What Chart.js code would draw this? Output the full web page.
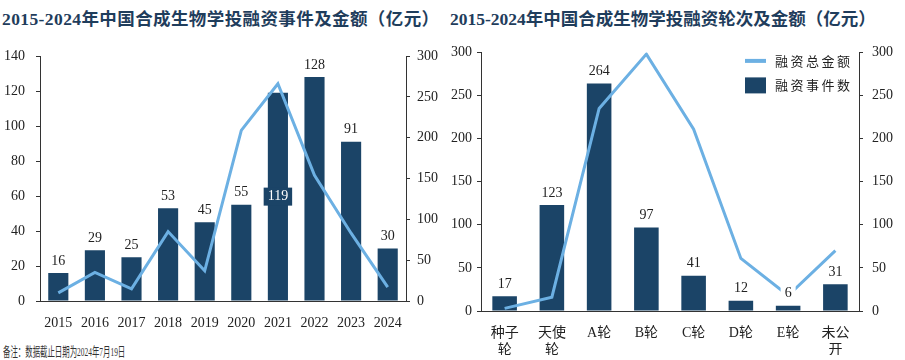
<!DOCTYPE html>
<html>
<head>
<meta charset="utf-8">
<script src="https://cdn.jsdelivr.net/npm/chart.js@4.4.1/dist/chart.umd.min.js"></script>
<style>
  body { margin: 0; width: 905px; height: 360px; background: #fff; position: relative; overflow: hidden;
         font-family: "Liberation Serif", "Noto Sans CJK SC", serif; }
  .title { position: absolute; top: 5px; font-size: 17.5px; font-weight: bold; color: #1f3d5c; white-space: nowrap; }
  #t1 { left: 2px; letter-spacing: 0.4px; }
  #t2 { left: 450px; }
  #note { position: absolute; left: 3px; top: 341px; font-size: 13px; color: #333; white-space: nowrap;
          transform: scaleX(0.57); transform-origin: left top; }
  canvas { position: absolute; }
</style>
</head>
<body>
<div class="title" id="t1">2015-2024年中国合成生物学投融资事件及金额（亿元）</div>
<div class="title" id="t2">2015-2024年中国合成生物学投融资轮次及金额（亿元）</div>
<canvas id="yearChart" width="450" height="300" style="left:0;top:35px"></canvas>
<canvas id="roundChart" width="465" height="320" style="left:440px;top:35px"></canvas>
<div id="note">备注：数据截止日期为2024年7月19日</div>
<script>
// data
const years = ['2015', '2016', '2017', '2018', '2019', '2020', '2021', '2022', '2023', '2024'];
const yearEvents = [16, 29, 25, 53, 45, 55, 119, 128, 91, 30];
const yearAmount = [10, 35, 15, 85, 37, 209, 266, 154, 83, 17];

const rounds = [['种子', '轮'], ['天使', '轮'], 'A轮', 'B轮', 'C轮', 'D轮', 'E轮', ['未公', '开']];
const roundEvents = [17, 123, 264, 97, 41, 12, 6, 31];
const roundAmount = [3, 16, 235, 298, 211, 61, 18, 70];

const barColor = '#1b4467';
const lineColor = '#6cb0e3';
const axisColor = '#333';

Chart.defaults.font.family = '"Liberation Serif", "Noto Sans CJK SC", serif';
Chart.defaults.font.size = 14;
Chart.defaults.color = '#222';

// labels above bars
const barLabels = {
  id: 'barLabels',
  afterDatasetsDraw(chart, args, opts) {
    const ctx = chart.ctx;
    const meta = chart.getDatasetMeta(0);
    const data = chart.data.datasets[0].data;
    ctx.save();
    ctx.font = '14px "Liberation Serif"';
    ctx.textAlign = 'center';
    ctx.textBaseline = 'middle';
    meta.data.forEach((bar, i) => {
      const txt = String(data[i]);
      let y = bar.y - 12;
      const w = ctx.measureText(txt).width + 8;
      if (i === opts.inside) {
        y = (bar.y + bar.base) / 2;
        ctx.fillStyle = barColor;
        ctx.fillRect(bar.x - w / 2, y - 9, w, 18);
        ctx.fillStyle = '#fff';
      } else if (i === opts.knockout) {
        ctx.fillStyle = '#fff';
        ctx.fillRect(bar.x - w / 2, y - 9, w, 18);
        ctx.fillStyle = '#222';
      } else {
        ctx.fillStyle = '#222';
      }
      ctx.fillText(txt, bar.x, y);
    });
    ctx.restore();
  }
};

// legend box in the top right of the plot
const legendBox = {
  id: 'legendBox',
  afterDraw(chart, args, opts) {
    if (!opts.show) return;
    const { ctx, chartArea: a } = chart;
    const x = a.right - 114;
    ctx.save();
    ctx.strokeStyle = lineColor;
    ctx.lineWidth = 4;
    ctx.beginPath();
    ctx.moveTo(x, a.top + 8.5);
    ctx.lineTo(x + 21, a.top + 8.5);
    ctx.stroke();
    ctx.fillStyle = barColor;
    ctx.fillRect(x, a.top + 25, 21, 16);
    ctx.font = '13px "Noto Sans CJK SC"';
    ctx.letterSpacing = '2.5px';
    ctx.fillStyle = '#222';
    ctx.textBaseline = 'middle';
    ctx.fillText(chart.data.datasets[1].label, x + 30, a.top + 9);
    ctx.fillText(chart.data.datasets[0].label, x + 30, a.top + 33);
    ctx.restore();
  }
};

function makeChart(id, labels, events, amount, o) {
  const yGrid = { drawOnChartArea: false, tickLength: 4, color: axisColor };
  return new Chart(document.getElementById(id), {
    type: 'bar',
    data: {
      labels: labels,
      datasets: [
        { label: '融资事件数', data: events, yAxisID: 'y', order: 2, backgroundColor: barColor,
          barPercentage: o.barPct, categoryPercentage: 1 },
        { type: 'line', label: '融资总金额', data: amount, yAxisID: 'y2', order: 1,
          borderColor: lineColor, borderWidth: 3, pointRadius: 0, tension: 0, fill: false }
      ]
    },
    options: {
      responsive: false,
      animation: false,
      layout: { padding: { top: o.top, left: 0, right: 0, bottom: 0 } },
      plugins: {
        legend: { display: false },
        tooltip: { enabled: false },
        barLabels: { inside: o.inside, knockout: o.knockout },
        legendBox: { show: o.legend }
      },
      scales: {
        x: {
          offset: true,
          grid: { display: false },
          border: { color: axisColor },
          ticks: { padding: 6, autoSkip: false, maxRotation: 0 },
          afterFit: s => { s.height = o.xH; }
        },
        y: {
          position: 'left', min: 0, max: o.yMax,
          ticks: { stepSize: o.yStep, padding: o.yPad },
          grid: yGrid, border: { color: axisColor },
          afterFit: s => { s.width = o.yW; }
        },
        y2: {
          position: 'right', min: 0, max: 300,
          ticks: { stepSize: 50, padding: o.y2Pad },
          grid: yGrid, border: { color: axisColor },
          afterFit: s => { s.width = o.y2W; }
        }
      }
    },
    plugins: [barLabels, legendBox]
  });
}

makeChart('yearChart', years, yearEvents, yearAmount, {
  barPct: 0.55, top: 21, xH: 34, yMax: 140, yStep: 20, yPad: 11, yW: 40, y2Pad: 7, y2W: 44,
  inside: 6, knockout: -1, legend: false
});

makeChart('roundChart', rounds, roundEvents, roundAmount, {
  barPct: 0.52, top: 17, xH: 44, yMax: 300, yStep: 50, yPad: 5, yW: 41, y2Pad: 9, y2W: 46,
  inside: -1, knockout: 6, legend: true
});
</script>
</body>
</html>
